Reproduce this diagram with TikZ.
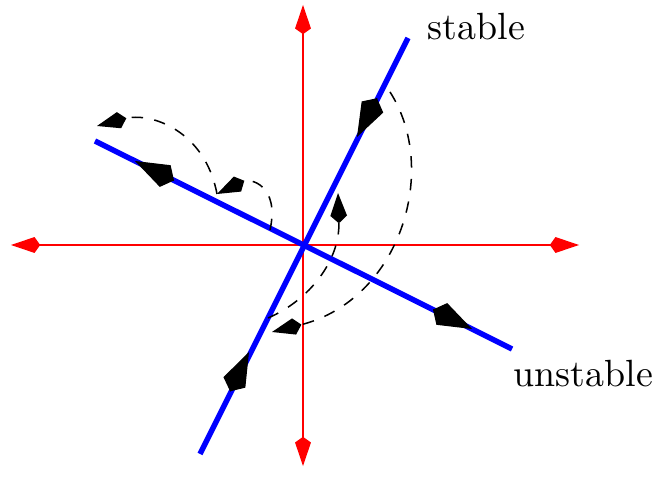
\documentclass[tikz,border=0pt]{standalone}
\usetikzlibrary{arrows.meta,calc}
\begin{document}
\begin{tikzpicture}[x=0.2638pt,y=-0.2638pt,
  axisline/.style={red,line width=0.5pt,{Kite[length=7.7pt,width=4.2pt,inset=1.5pt]}-{Kite[length=7.7pt,width=4.2pt,inset=1.5pt]}},
  eigline/.style={blue,line width=1.45pt},
  eigarrow/.style={black,line width=0.3pt,-{Kite[length=11.5pt,width=6.4pt,inset=2.6pt]}},
  traj/.style={black,dashed,line width=0.4pt,-{Kite[length=8pt,width=4.4pt,inset=2pt]}},
  lbl/.style={inner sep=0pt,anchor=base west}]
\useasboundingbox (0,0) rectangle (656,489);
% axes
\coordinate (xl) at (11,245);
\coordinate (xr) at (579,245);
\coordinate (yt) at (303,5);
\coordinate (yb) at (303,466);
\draw[axisline] (xl) -- (xr);
\draw[axisline] (yb) -- (yt);
% eigen lines
\coordinate (s1) at (200,454);
\coordinate (s2) at (408,38);
\coordinate (u1) at (95,141);
\coordinate (u2) at (512,349);
\draw[eigline] (s1) -- (s2);
\draw[eigline] (u1) -- (u2);
% arrows on eigen lines (tip points)
\coordinate (sa1t) at (357,137);
\coordinate (sa2t) at (249,352);
\coordinate (ua1t) at (135,161);
\coordinate (ua2t) at (472,329);
\draw[eigarrow] ($(sa1t)!11.5pt!(s2)$) -- (sa1t);
\draw[eigarrow] ($(sa2t)!11.5pt!(s1)$) -- (sa2t);
\draw[eigarrow] ($(ua1t)!11.5pt!(u2)$) -- (ua1t);
\draw[eigarrow] ($(ua2t)!11.5pt!(u1)$) -- (ua2t);
% trajectories
\coordinate (a0) at (270,230);
\coordinate (a1) at (217,194);
\coordinate (b1) at (97,126);
\coordinate (c0) at (390,92);
\coordinate (c1) at (272,332);
\coordinate (d0) at (268,318);
\coordinate (d1) at (338,193);
\draw[traj] (a0) .. controls (280,185) and (250,178) .. (a1);
\draw[traj] (a1) .. controls (205,130) and (150,112) .. (b1);
\draw[traj] (c0) .. controls (440,170) and (400,300) .. (c1);
\draw[traj] (d0) .. controls (310,300) and (340,260) .. (d1);
% labels
\node[lbl] (ls) at (427,40) {stable};
\node[lbl] (lu) at (513,387) {unstable};
\end{tikzpicture}
\end{document}
